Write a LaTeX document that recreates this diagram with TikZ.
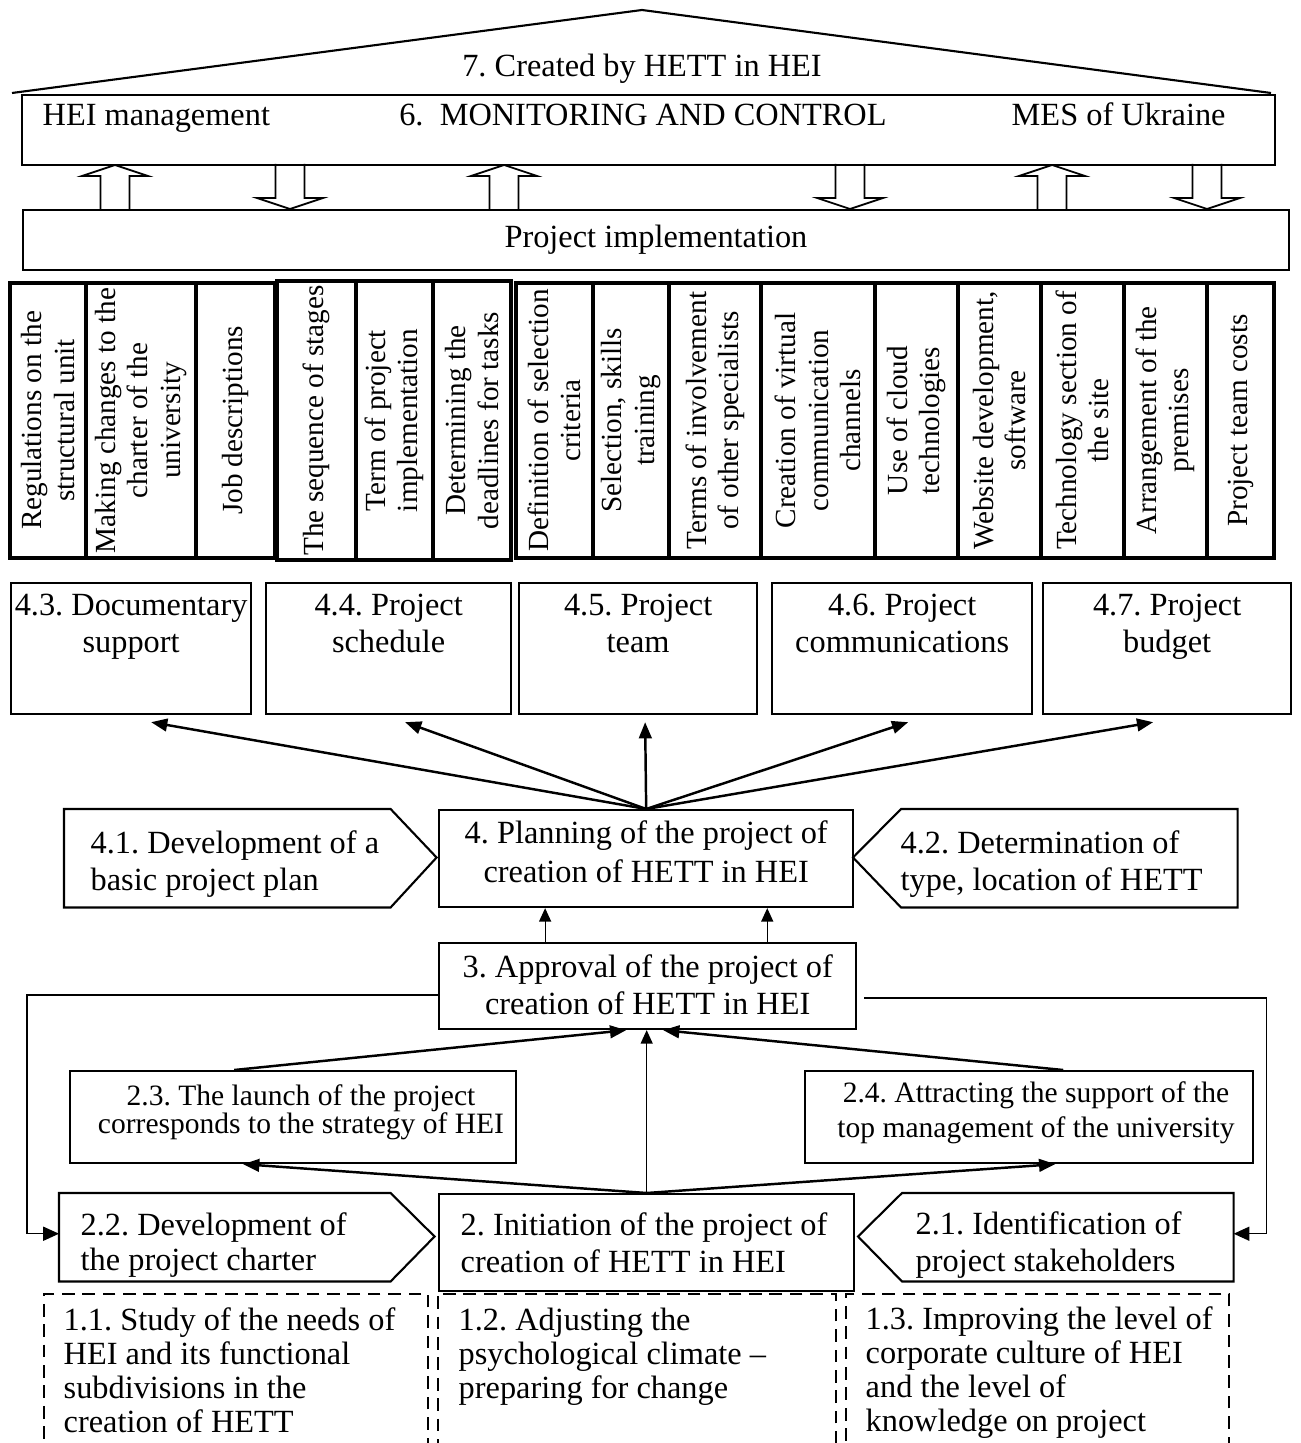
\documentclass[tikz,border=0pt]{standalone}
\usepackage{fontspec}
\setmainfont{Liberation Serif}
\usetikzlibrary{arrows.meta,positioning,calc}
\frenchspacing

\begin{document}
\begin{tikzpicture}[x=0.01cm, y=-0.01cm,
  font=\fontsize{9.2}{10.5}\selectfont,
  outline/.style={line width=0.6pt, line join=miter},
  box/.style={rectangle, draw, outline, inner sep=0pt, anchor=north west},
  body/.style={rectangle, inner sep=0pt, anchor=north west},
  col/.style={rectangle, draw, line width=1pt, inner sep=0pt, rotate=90, align=center,
              font=\fontsize{8.3}{9.2}\selectfont},
  dbox/.style={rectangle, draw, line width=0.45pt, dash pattern=on 3.6pt off 2.2pt,
               inner sep=0pt, anchor=north west},
  txt/.style={inner sep=0pt, align=left, anchor=north west},
  ctr/.style={inner sep=0pt, align=center, anchor=north},
  smalltxt/.style={font=\fontsize{8.4}{8}\selectfont},
  dashtxt/.style={font=\fontsize{9.2}{9.7}\selectfont},
  hollow/.style={line width=0.5pt, line join=miter},
  fanarrow/.style={-{Triangle[length=4.6pt,width=3.6pt]}, line width=0.7pt},
  liftarrow/.style={-{Triangle[length=3.8pt,width=3.4pt]}, line width=0.35pt},
  sidearrow/.style={-{Triangle[length=4.5pt,width=4pt]}, line width=0.4pt},
]
\useasboundingbox (0,0) rectangle (1301,1443);
\clip (0,0) rectangle (1301,1443);

% ---------- roof and the monitoring bar
\coordinate (roofL) at (12,93);
\coordinate (roofT) at (642,10);
\coordinate (roofR) at (1271,93);
\draw[outline] (roofL) -- (roofT) -- (roofR);
\node[inner sep=0pt, anchor=base] (roof) at (642,77) {7. Created by HETT in HEI};
\node[box, minimum width=12.52cm, minimum height=0.70cm] (mon) at (21,94) {};
\node[inner sep=0pt, anchor=base west] (heim) at (42,126) {HEI management};
\node[inner sep=0pt, anchor=base] (monc) at (643,126) {6.~ MONITORING AND CONTROL};
\node[inner sep=0pt, anchor=base west] (mes) at (1011,126) {MES of Ukraine};

% ---------- hollow arrows between the bars
\foreach \cx in {115,504,1052}
  \draw[hollow] (\cx-14.5,209) -- (\cx-14.5,176) -- (\cx-33,176) -- (\cx,165)
    -- (\cx+33,176) -- (\cx+14.5,176) -- (\cx+14.5,209);
\foreach \cx in {290,850,1207}
  \draw[hollow] (\cx-14.5,164) -- (\cx-14.5,198) -- (\cx-33,198) -- (\cx,209)
    -- (\cx+33,198) -- (\cx+14.5,198) -- (\cx+14.5,164);
\node[box, minimum width=12.65cm, minimum height=0.60cm] (impl) at (22,209) {Project implementation};

% ---------- the columns under the bar
\foreach \i/\xa/\xb/\t in {1/10/86/{Regulations on the\\structural unit},
    2/86/196/{Making changes to the\\charter of the\\university},
    3/196/275/{Job descriptions}} {
  \pgfmathsetmacro{\w}{(\xb-\xa)/100}
  \node[col, minimum width=2.75cm, minimum height=\w cm] (c\i) at ({(\xa+\xb)/2},420.5) {\t};
}
\foreach \i/\xa/\xb/\t in {4/277/356/{The sequence of stages},
    5/356/433/{Term of project\\implementation},
    6/433/511/{Determining the\\deadlines for tasks}} {
  \pgfmathsetmacro{\w}{(\xb-\xa)/100}
  \node[col, minimum width=2.79cm, minimum height=\w cm] (c\i) at ({(\xa+\xb)/2},420.5) {\t};
}
\foreach \i/\xa/\xb/\t in {7/516/593/{Definition of selection\\criteria},
    8/593/669/{Selection, skills\\training},
    9/669/761/{Terms of involvement\\of other specialists},
    10/761/875/{Creation of virtual\\communication\\channels},
    11/875/958/{Use of cloud\\technologies},
    12/958/1041/{Website development,\\software},
    13/1041/1124/{Technology section of\\the site},
    14/1124/1207/{Arrangement of the\\premises},
    15/1207/1274/{Project team costs}} {
  \pgfmathsetmacro{\w}{(\xb-\xa)/100}
  \node[col, minimum width=2.75cm, minimum height=\w cm] (c\i) at ({(\xa+\xb)/2},420.5) {\t};
}

% ---------- 4.3 ... 4.7
\foreach \n/\xa/\xb/\t in {43/10/250/{4.3. Documentary\\support},
    44/265/510/{4.4. Project\\schedule},
    45/518/756/{4.5. Project\\team},
    46/771/1031/{4.6. Project\\communications},
    47/1042/1290/{4.7. Project\\budget}} {
  \pgfmathsetmacro{\w}{(\xb-\xa)/100}
  \node[box, minimum width=\w cm, minimum height=1.31cm] (b\n) at (\xa,582) {};
  \node[ctr] (t\n) at ($(b\n.north)+(0,11)$) {\t};
}

% ---------- planning level
\node[box, minimum width=4.14cm, minimum height=0.97cm] (b4) at (438,809) {};
\node[ctr, font=\fontsize{9.2}{11}\selectfont] (t4) at ($(b4.north)+(0,11)$)
  {4. Planning of the project of\\creation of HETT in HEI};
\node[body, minimum width=3.25cm, minimum height=0.97cm] (b41) at (64,809) {};
\draw[outline] (b41.north west) -- (b41.north east) -- ++(46,48.5)
  -- (b41.south east) -- (b41.south west) -- cycle;
\node[txt] (t41) at (90,830) {4.1. Development of a\\basic project plan};
\node[body, minimum width=3.35cm, minimum height=0.97cm] (b42) at (901,809) {};
\draw[outline] (b42.north east) -- (b42.north west) -- ++(-48,48.5)
  -- (b42.south west) -- (b42.south east) -- cycle;
\node[txt] (t42) at (900,830) {4.2. Determination of\\type, location of HETT};

\foreach \n/\dx in {43/0.20,44/0.165,45/0.07,46/0.06,47/-0.14}
  \draw[fanarrow] (b4.north) -- ([xshift=\dx cm, yshift=-0.07cm]b\n.south);

% ---------- approval
\node[box, minimum width=4.17cm, minimum height=0.86cm] (b3) at (438,942) {};
\node[ctr] (t3) at ($(b3.north)+(0,12)$) {3. Approval of the project of\\creation of HETT in HEI};
\coordinate (a1) at ([xshift=-1.025cm]b3.north);
\coordinate (a2) at ([xshift=1.195cm]b3.north);
\draw[liftarrow] (a1) -- (a1 |- b4.south);
\draw[liftarrow] (a2) -- (a2 |- b4.south);

% ---------- 2.3 and 2.4
\node[box, minimum width=4.46cm, minimum height=0.92cm] (b23) at (69,1070) {};
\node[ctr, smalltxt] (t23) at (301,1084) {2.3. The launch of the project\\corresponds to the strategy of HEI};
\node[box, minimum width=4.48cm, minimum height=0.92cm] (b24) at (804,1070) {};
\node[ctr, font=\fontsize{8.4}{10}\selectfont] (t24) at (1036,1081)
  {2.4. Attracting the support of the\\top management of the university};

% ---------- initiation level
\node[box, minimum width=4.15cm, minimum height=0.97cm] (b2) at (438,1193) {};
\node[txt] (t2) at (460,1212) {2. Initiation of the project of\\creation of HETT in HEI};
\node[body, minimum width=3.30cm, minimum height=0.87cm] (b22) at (59,1193) {};
\draw[outline] (b22.north west) -- (b22.north east) -- ++(44,43.5)
  -- (b22.south east) -- (b22.south west) -- cycle;
\node[txt, font=\fontsize{9.2}{10}\selectfont] (t22) at (80,1212) {2.2. Development of\\the project charter};
\node[body, minimum width=3.30cm, minimum height=0.87cm] (b21) at (902,1193) {};
\draw[outline] (b21.north east) -- (b21.north west) -- ++(-44,43.5)
  -- (b21.south west) -- (b21.south east) -- cycle;
\node[txt] (t21) at (915,1211) {2.1. Identification of\\project stakeholders};

\draw[fanarrow] (b2.north) -- ([xshift=-0.5cm]b23.south);
\draw[fanarrow] (b2.north) -- ([xshift=0.26cm]b24.south);
\draw[fanarrow] ([xshift=-0.59cm]b23.north) -- ([xshift=-0.215cm]b3.south);
\draw[fanarrow] ([xshift=0.34cm]b24.north) -- ([xshift=0.155cm]b3.south);
\draw[liftarrow] (b2.north) -- (b2.north |- b3.south);
\draw[sidearrow] ([yshift=-0.09cm]b3.west) -| ([xshift=-0.32cm,yshift=0.035cm]b22.west)
  -- ([yshift=0.035cm]b22.west);
\draw[sidearrow] ([xshift=0.07cm,yshift=-0.12cm]b3.east) -| ([xshift=0.33cm,yshift=0.035cm]b21.east)
  -- ([yshift=0.035cm]b21.east);

% ---------- stage 1, open at the foot
\node[dbox, minimum width=3.84cm, minimum height=1.8cm] (d11) at (43,1293) {};
\node[txt, dashtxt] (t11) at (63,1307)
  {1.1. Study of the needs of\\HEI and its functional\\subdivisions in the\\creation of HETT};
\node[dbox, minimum width=3.98cm, minimum height=1.8cm] (d12) at (437,1293) {};
\node[txt, dashtxt] (t12) at (458,1307)
  {1.2. Adjusting the\\psychological climate \textendash\\preparing for change};
\node[dbox, minimum width=3.83cm, minimum height=1.8cm] (d13) at (845,1293) {};
\node[txt, dashtxt] (t13) at (865,1306)
  {1.3. Improving the level of\\corporate culture of HEI\\and the level of\\knowledge on project};
\end{tikzpicture}
\end{document}
